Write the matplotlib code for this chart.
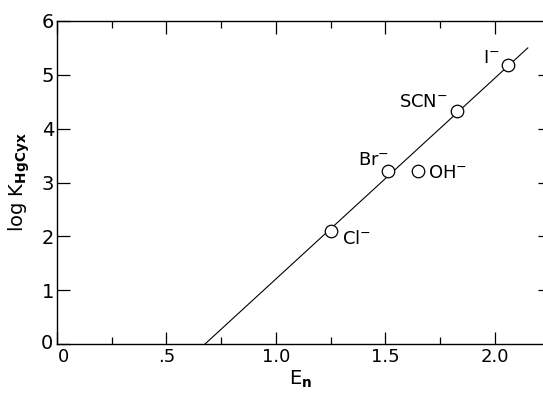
import numpy as np
import matplotlib
matplotlib.use('Agg')
import matplotlib.pyplot as plt
import matplotlib.transforms as mtransforms
from matplotlib.ticker import MultipleLocator, FixedLocator, FixedFormatter

plt.rcParams['font.family'] = ['DejaVu Sans']
plt.rcParams['mathtext.fontset'] = 'dejavusans'

# valores
ions = ['Cl$^{-}$', 'Br$^{-}$', 'OH$^{-}$', 'SCN$^{-}$', 'I$^{-}$']
en = [1.25, 1.51, 1.65, 1.825, 2.06]
log_k = [2.10, 3.21, 3.21, 4.32, 5.19]

# reta ajustada (extremos)
line_en = [0.676, 2.15]
line_logk = [0.0, 5.5]

x_ticks = [0, 0.5, 1.0, 1.5, 2.0]
x_labels = ['0', '.5', '1.0', '1.5', '2.0']
y_ticks = [0, 1, 2, 3, 4, 5, 6]
y_labels = ['0', '1', '2', '3', '4', '5', '6']

# deslocamento dos rotulos (pontos) e alinhamento
offsets = [(8, -6), (1, 8), (7, -1), (-6, 7), (-6, 5)]
aligns = ['left', 'right', 'left', 'right', 'right']

fig = plt.figure(figsize=(5.43, 3.94), dpi=100)
ax = fig.add_axes([57/543, 1 - 344/394, 487/543, 323/394])

ax.plot(line_en, line_logk, color='black', lw=0.8, zorder=2)
ax.plot(en, log_k, 'o', ms=9, mfc='white', mec='black', mew=0.9, zorder=3)

for name, x, y, off, ha in zip(ions, en, log_k, offsets, aligns):
    ax.annotate(name, (x, y), xytext=off, textcoords='offset points',
                ha=ha, va='center', fontsize=13)

ax.set_xlim(0, 2.224)
ax.set_ylim(0, 6)

ax.xaxis.set_major_locator(FixedLocator(x_ticks))
ax.xaxis.set_major_formatter(FixedFormatter(x_labels))
ax.xaxis.set_minor_locator(MultipleLocator(0.25))
ax.yaxis.set_major_locator(FixedLocator(y_ticks))
ax.yaxis.set_major_formatter(FixedFormatter(y_labels))

ax.tick_params(axis='x', which='both', direction='in', top=True, labelsize=13, pad=3)
ax.tick_params(axis='x', which='major', length=9, width=0.9)
ax.tick_params(axis='x', which='minor', length=5, width=0.9)
ax.tick_params(axis='y', which='major', direction='in', length=9, width=0.9,
               labelsize=14, pad=2)
ax.spines['right'].set_visible(False)
for s in ['left', 'bottom', 'top']:
    ax.spines[s].set_linewidth(1.0)

# os dois zeros do canto ficam afastados como no original
fig.canvas.draw()
dx = mtransforms.ScaledTranslation(5/72, 0, fig.dpi_scale_trans)
ax.get_xticklabels()[0].set_transform(ax.get_xticklabels()[0].get_transform() + dx)
dy = mtransforms.ScaledTranslation(-1/72, 2/72, fig.dpi_scale_trans)
ax.get_yticklabels()[0].set_transform(ax.get_yticklabels()[0].get_transform() + dy)

# ticks curtos do lado direito
ax2 = ax.twinx()
ax2.set_ylim(0, 6)
ax2.yaxis.set_major_locator(FixedLocator(y_ticks[1:-1]))
ax2.tick_params(axis='y', direction='in', length=4.5, width=0.9, labelright=False)
for s in ax2.spines.values():
    s.set_visible(False)

ax.set_xlabel(r'E$_{\mathbf{n}}$', fontsize=14, labelpad=2)
ax.set_ylabel(r'log K$_{\mathbf{HgCyx}}$', fontsize=14, labelpad=6)

fig.savefig('out.png', dpi=100)
